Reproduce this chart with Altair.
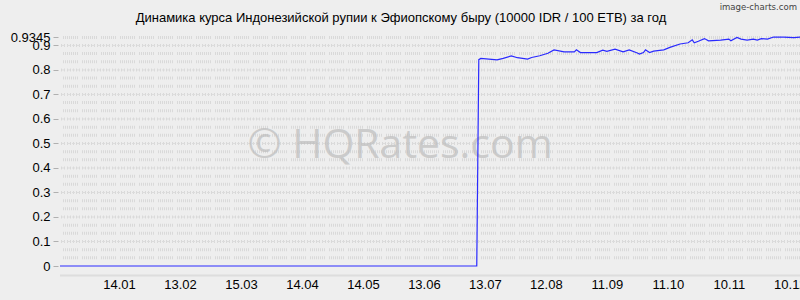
import altair as alt
import pandas as pd

# ---- data ----
dates = [
    "2013-12-16", "2014-01-14", "2014-02-13", "2014-03-15", "2014-04-14",
    "2014-05-14", "2014-06-13", "2014-07-09",
    "2014-07-10", "2014-07-11", "2014-07-19", "2014-07-22", "2014-07-26",
    "2014-07-29", "2014-08-03", "2014-08-05", "2014-08-09", "2014-08-13",
    "2014-08-16", "2014-08-21", "2014-08-26", "2014-08-27", "2014-08-29",
    "2014-09-06", "2014-09-09", "2014-09-11", "2014-09-15", "2014-09-19",
    "2014-09-22", "2014-09-26", "2014-09-27", "2014-09-29", "2014-09-30",
    "2014-10-02", "2014-10-04", "2014-10-09", "2014-10-12", "2014-10-17",
    "2014-10-21", "2014-10-23", "2014-10-24", "2014-10-26", "2014-10-29",
    "2014-10-31", "2014-11-06", "2014-11-10", "2014-11-11", "2014-11-14",
    "2014-11-16", "2014-11-19", "2014-11-22", "2014-11-24", "2014-11-26",
    "2014-11-29", "2014-12-02", "2014-12-07", "2014-12-12", "2014-12-15",
]
rates = [
    0, 0, 0, 0, 0,
    0, 0, 0,
    0.842, 0.847, 0.841, 0.847, 0.857,
    0.850, 0.844, 0.851, 0.858, 0.868,
    0.882, 0.874, 0.874, 0.882, 0.871,
    0.871, 0.881, 0.876, 0.885, 0.874,
    0.882, 0.869, 0.865, 0.871, 0.882,
    0.871, 0.877, 0.882, 0.892, 0.906,
    0.911, 0.923, 0.911, 0.917, 0.928,
    0.919, 0.922, 0.926, 0.919, 0.933,
    0.926, 0.922, 0.926, 0.922, 0.928,
    0.926, 0.9345, 0.934, 0.932, 0.934,
]
y_ticks = [0, 0.1, 0.2, 0.3, 0.4, 0.5, 0.6, 0.7, 0.8, 0.9, 0.9345]
x_tick_dates = [
    (2014, 1, 14), (2014, 2, 13), (2014, 3, 15), (2014, 4, 14),
    (2014, 5, 14), (2014, 6, 13), (2014, 7, 13), (2014, 8, 12),
    (2014, 9, 11), (2014, 10, 11), (2014, 11, 10), (2014, 12, 10),
]
title_text = "Динамика курса Индонезийской рупии к Эфиопскому быру (10000 IDR / 100 ETB) за год"

df = pd.DataFrame({"date": dates, "rate": rates})

W, H = 740, 229
BG = "#eeeeee"
FONT = "Liberation Sans"

x_scale = alt.Scale(
    type="utc",
    domain=[alt.DateTime(year=2013, month=12, date=16, utc=True),
            alt.DateTime(year=2014, month=12, date=15, utc=True)],
)
y_scale = alt.Scale(domain=[0, 0.9345], nice=False, zero=True)

y_axis = alt.Axis(
    values=y_ticks,
    format=".4~f",
    grid=False,
    domain=False,
    ticks=True,
    tickSize=5,
    tickColor="#b0b0b0",
    offset=2,
    labelPadding=3,
    labelFont=FONT,
    labelFontSize=13,
    labelColor="#000000",
    labelOverlap=False,
    labelBound=False,
    title=None,
)

# grid bands (style only)
major = [round(i * 0.1, 4) for i in range(1, 10)]
minor = [round(k * 0.1 + d, 4) for k in range(0, 10) for d in (0.0333, 0.0667)]
minor = [v for v in minor if v < 0.93] + [0.9325]

tick_dash = [1, 1] * 7 + [1, 4]

band_minor = alt.Chart(pd.DataFrame({"v": minor})).mark_rule(
    color="#d9d9d9", strokeWidth=3, strokeDash=tick_dash
).encode(y=alt.Y("v:Q", scale=y_scale, axis=y_axis, title=None))

band_major = alt.Chart(pd.DataFrame({"v": major})).mark_rule(
    color="#d9d9d9", strokeWidth=3, strokeDash=[1, 2]
).encode(y=alt.Y("v:Q", scale=y_scale, axis=y_axis, title=None))

band_major_line = alt.Chart(pd.DataFrame({"v": major})).mark_rule(
    color="#dcdcdc", strokeWidth=1, strokeDash=[3, 2]
).encode(y=alt.Y("v:Q", scale=y_scale, axis=y_axis, title=None))

line = alt.Chart(df).mark_line(color="#2a2aff", strokeWidth=1.2, interpolate="linear").encode(
    x=alt.X(
        "date:T",
        scale=x_scale,
        title=None,
        axis=alt.Axis(
            values=[alt.DateTime(year=y, month=m, date=d, utc=True) for (y, m, d) in x_tick_dates],
            format="%d.%m",
            ticks=False,
            grid=False,
            domain=True,
            domainColor="#cccccc",
            domainDash=[1, 1],
            domainWidth=2,
            offset=9,
            labelPadding=3,
            labelFont=FONT,
            labelFontSize=13,
            labelColor="#000000",
            labelFlush=False,
            labelOverlap=False,
        ),
    ),
    y=alt.Y("rate:Q", scale=y_scale, axis=y_axis, title=None),
)

watermark = alt.Chart(pd.DataFrame({"t": ["© HQRates.com"]})).mark_text(
    font="Open Sans", fontSize=41, color="#bdbdbd", opacity=0.7,
    align="center", baseline="middle"
).encode(text="t:N", x=alt.value(340), y=alt.value(109))

title = alt.Chart(pd.DataFrame({"t": [title_text]})).mark_text(
    font=FONT, fontSize=13, color="#000000", align="center", baseline="middle"
).encode(text="t:N", x=alt.value(341), y=alt.value(-19))

credit = alt.Chart(pd.DataFrame({"t": ["image-charts.com"]})).mark_text(
    font="DejaVu Sans Condensed", fontSize=9.5, color="#444444", align="right", baseline="middle"
).encode(text="t:N", x=alt.value(737), y=alt.value(-30))

chart = alt.layer(
    band_minor, band_major, band_major_line, watermark, line, title, credit
).properties(
    width=W, height=H,
    background=BG,
    padding={"left": 60, "top": 37, "right": 0, "bottom": 34},
    autosize=alt.AutoSizeParams(type="none"),
).configure_view(stroke=None, fill=BG)

chart.save("out.html", embed_options={"renderer": "svg", "actions": False})
